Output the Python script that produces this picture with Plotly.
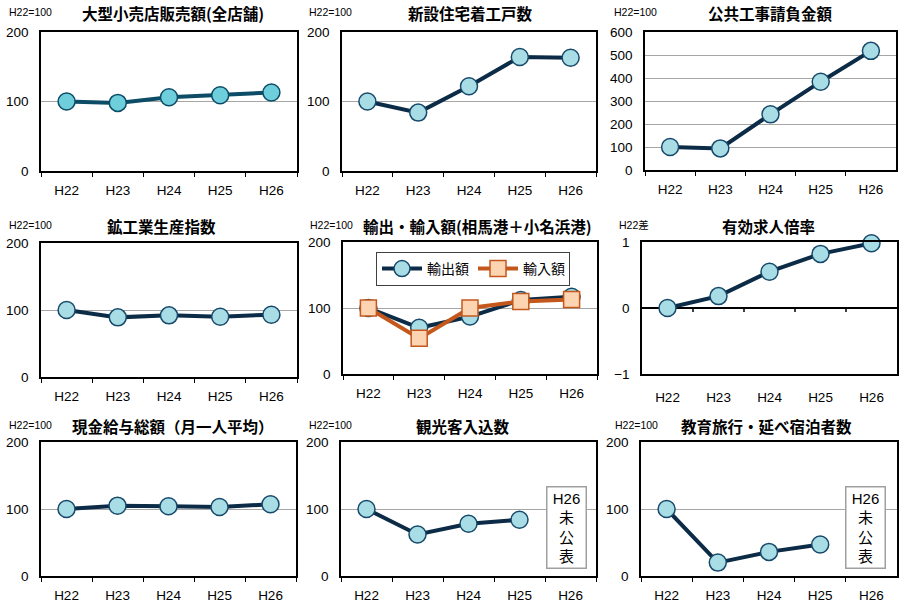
import plotly.graph_objects as go

# ---- data -------------------------------------------------------------
years = ["H22", "H23", "H24", "H25", "H26"]

retail_sales = [100, 98, 106, 109, 113]          # 大型小売店販売額(全店舗)
housing_starts = [100, 84, 122, 164, 163]        # 新設住宅着工戸数
public_works = [100, 94, 242, 384, 518]          # 公共工事請負金額
industrial_production = [100, 89, 92, 90, 93]    # 鉱工業生産指数
exports = [100, 70, 87, 112, 117]                # 輸出額
imports = [100, 54, 100, 110, 113]               # 輸入額
job_ratio_diff = [0, 0.18, 0.55, 0.82, 0.98]     # 有効求人倍率 (H22差)
cash_earnings = [100, 105, 104, 103, 107]        # 現金給与総額（月一人平均）
tourists = [100, 62, 78, 84, None]               # 観光客入込数
school_trip_stays = [100, 20, 36, 47, None]      # 教育旅行・延べ宿泊者数

panel_titles = [
    "大型小売店販売額(全店舗)", "新設住宅着工戸数", "公共工事請負金額",
    "鉱工業生産指数", "輸出・輸入額(相馬港＋小名浜港)", "有効求人倍率",
    "現金給与総額（月一人平均）", "観光客入込数", "教育旅行・延べ宿泊者数",
]
unit_labels = ["H22=100"] * 5 + ["H22差"] + ["H22=100"] * 3
legend_names = ["輸出額", "輸入額"]
pending_note = "H26<br>未<br>公<br>表"

# ---- styling ------------------------------------------------------------
W, H = 903, 603
NAVY = "#0B2B46"
NAVY_EDGE = "#17496A"
CYAN = "#A9DDE6"
TEAL = "#0D4C66"
TEAL_FILL = "#6FCEDC"
ORANGE = "#C4581C"
PEACH = "#FCD4B2"
GRID = "#A6A6A6"
LATIN = "Liberation Sans, Arial, Noto Sans CJK JP"
CJK = "Noto Sans CJK JP"

# pixel boxes of each plotting area: (left, right, top, bottom)
boxes = [
    (41, 297, 32, 171), (342, 596, 32, 171), (645, 896, 32, 170),
    (41, 297, 243, 377), (343, 597, 242, 374), (642, 897, 242, 374),
    (41, 296, 442, 576), (341, 596, 442, 576), (641, 897, 442, 576),
]
title_centers = [173, 470, 770, 161, 477, 768, 173, 463, 766]
unit_left = [7, 307, 612, 7, 308, 617, 7, 307, 613]
head_y = [13, 13, 13, 226, 226, 226, 426, 426, 426]
y_ranges = [(0, 200), (0, 200), (0, 600), (0, 200), (0, 200),
            (-1, 1), (0, 200), (0, 200), (0, 200)]

single_series = {
    0: retail_sales, 1: housing_starts, 2: public_works,
    3: industrial_production, 5: job_ratio_diff, 6: cash_earnings,
    7: tourists, 8: school_trip_stays,
}

fig = go.Figure()
layout = {}
annotations = []
shapes = []

for i, (l, r, t, b) in enumerate(boxes):
    n = "" if i == 0 else str(i + 1)
    xa, ya = "x" + n, "y" + n
    is_diff = i == 5

    layout["xaxis" + n] = dict(
        domain=[l / W, r / W], anchor=ya, type="category",
        categoryorder="array", categoryarray=years,
        range=[-0.5, 4.5], tickson="boundaries",
        ticks="" if is_diff else "outside", ticklen=4, tickcolor="black",
        showline=True, mirror=True, linecolor="black", linewidth=1.5,
        showgrid=False, zeroline=False, automargin=False,
        tickfont=dict(family=LATIN, size=13.5, color="black"),
        ticklabelstandoff=6 if not is_diff else 10,
        fixedrange=True,
    )
    y0, y1 = y_ranges[i]
    layout["yaxis" + n] = dict(
        domain=[1 - b / H, 1 - t / H], anchor=xa,
        range=[y0, y1], dtick=1 if is_diff else 100,
        showgrid=not is_diff, gridcolor=GRID, gridwidth=1,
        zeroline=is_diff, zerolinecolor="black", zerolinewidth=1.5,
        showline=True, mirror=True, linecolor="black", linewidth=1.5,
        ticks="", tickfont=dict(family=LATIN, size=13.5, color="black"),
        ticklabelstandoff=8, automargin=False, fixedrange=True,
    )

    # panel heading and unit note
    annotations.append(dict(
        text="<b>" + panel_titles[i] + "</b>", xref="paper", yref="paper",
        x=title_centers[i] / W, y=1 - head_y[i] / H, xanchor="center",
        yanchor="middle", showarrow=False,
        font=dict(family=CJK, size=15.5, color="black"),
    ))
    annotations.append(dict(
        text=unit_labels[i], xref="paper", yref="paper",
        x=unit_left[i] / W, y=1 - (head_y[i] - 1) / H, xanchor="left",
        yanchor="middle", showarrow=False,
        font=dict(family=LATIN, size=10.5, color="black"),
    ))

    if i in single_series:
        line_c, fill_c, edge_c = (TEAL, TEAL_FILL, TEAL) if i == 0 else (NAVY, CYAN, NAVY_EDGE)
        fig.add_trace(go.Scatter(
            x=years, y=single_series[i], xaxis=xa, yaxis=ya,
            mode="lines+markers", showlegend=False, cliponaxis=False,
            line=dict(color=line_c, width=4),
            marker=dict(symbol="circle", size=17, color=fill_c,
                        line=dict(color=edge_c, width=1.5)),
        ))
    else:
        fig.add_trace(go.Scatter(
            x=years, y=exports, xaxis=xa, yaxis=ya, name=legend_names[0],
            mode="lines+markers", cliponaxis=False,
            line=dict(color=NAVY, width=4),
            marker=dict(symbol="circle", size=17, color=CYAN,
                        line=dict(color=NAVY_EDGE, width=1.5)),
        ))
        fig.add_trace(go.Scatter(
            x=years, y=imports, xaxis=xa, yaxis=ya, name=legend_names[1],
            mode="lines+markers", cliponaxis=False,
            line=dict(color=ORANGE, width=4),
            marker=dict(symbol="square", size=16, color=PEACH,
                        line=dict(color=ORANGE, width=1.5)),
        ))

    if is_diff:
        # category-boundary ticks hanging from the zero line
        for k in range(len(years) - 1):
            shapes.append(dict(
                type="line", xref=xa, yref=ya, x0=k + 0.5, x1=k + 0.5,
                ysizemode="pixel", yanchor=0, y0=0, y1=-4,
                line=dict(color="black", width=1.5),
            ))

    if i in (7, 8):
        annotations.append(dict(
            text=pending_note, xref=xa, yref=ya,
            x=3.92 if i == 7 else 3.88, y=72, xanchor="center",
            yanchor="middle", showarrow=False, align="center", width=34,
            bgcolor="white", bordercolor="#A0A0A0", borderwidth=1.5,
            borderpad=2, font=dict(family=LATIN + ", " + CJK, size=15, color="black"),
        ))

fig.update_layout(
    **layout,
    width=W, height=H,
    margin=dict(l=0, r=0, t=0, b=0, autoexpand=False),
    paper_bgcolor="white", plot_bgcolor="white",
    annotations=annotations, shapes=shapes,
    showlegend=True,
    legend=dict(
        orientation="h", x=376 / W, y=1 - 252 / H, xanchor="left",
        yanchor="top", bgcolor="white", bordercolor="#404040", borderwidth=1,
        font=dict(family=CJK, size=14, color="black"),
        itemwidth=40, entrywidth=41, entrywidthmode="pixels", tracegroupgap=0,
    ),
)

fig.write_html("out.html")
